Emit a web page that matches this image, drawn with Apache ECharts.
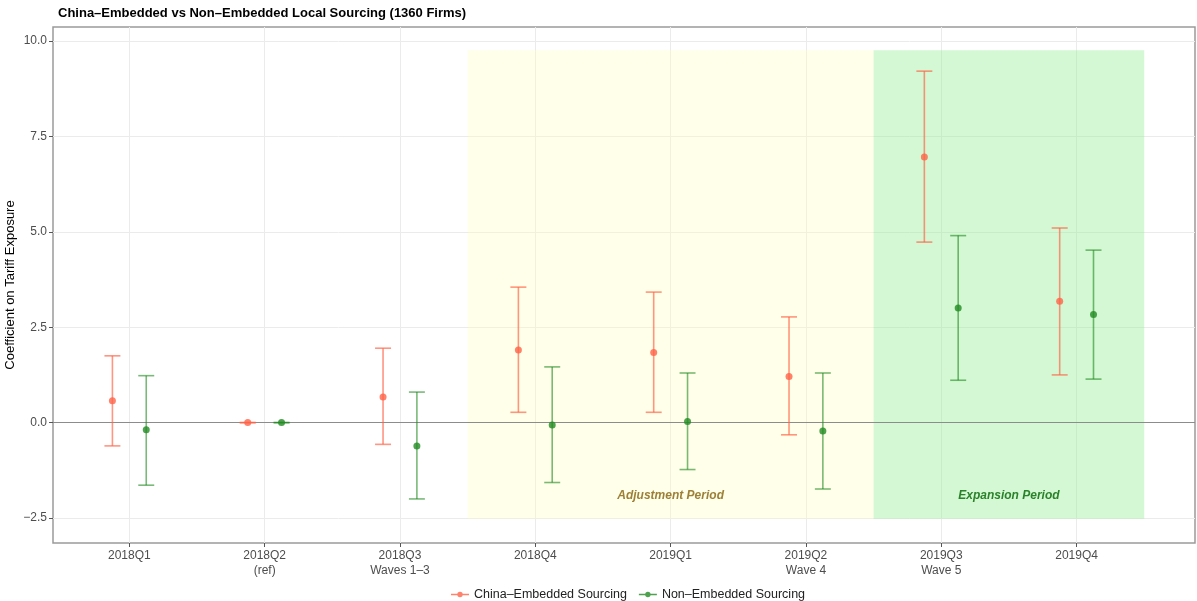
<!DOCTYPE html>
<html>
<head>
<meta charset="utf-8">
<script src="https://cdn.jsdelivr.net/npm/echarts@6/dist/echarts.min.js"></script>
<style>html,body{margin:0;padding:0;background:#fff}#c{width:1197px;height:601px}</style>
</head>
<body>
<div id="c"></div>
<script>
const categories = ['2018Q1','2018Q2','2018Q3','2018Q4','2019Q1','2019Q2','2019Q3','2019Q4'];
const subLabels = ['', '(ref)', 'Waves 1\u20133', '', '', 'Wave 4', 'Wave 5', ''];
const chinaEst = [0.57, 0, 0.67, 1.9, 1.84, 1.21, 6.96, 3.18];
const chinaLo  = [-0.61, 0, -0.57, 0.27, 0.27, -0.32, 4.73, 1.25];
const chinaHi  = [1.75, 0, 1.95, 3.55, 3.42, 2.77, 9.21, 5.1];
const nonEst = [-0.19, 0, -0.61, -0.06, 0.03, -0.22, 3.0, 2.83];
const nonLo  = [-1.64, 0, -2.0, -1.57, -1.23, -1.74, 1.11, 1.14];
const nonHi  = [1.23, 0, 0.8, 1.46, 1.3, 1.3, 4.9, 4.52];
const yTicks = [-2.5, 0, 2.5, 5, 7.5, 10];
const periods = [
  {name: 'Adjustment Period', from: 3.5, to: 6.5, labelX: 5, fill: 'rgba(255,255,190,0.32)', text: '#84600a'},
  {name: 'Expansion Period', from: 6.5, to: 8.5, labelX: 7.5, fill: 'rgba(144,238,144,0.4)', text: '#006400'}
];
const periodYMin = -2.52, periodYMax = 9.76, periodLabelY = -1.92;
const dodge = 0.125;

const FONT = '"Liberation Sans", Arial, Helvetica, sans-serif';
const chart = echarts.init(document.getElementById('c'), null, {renderer: 'canvas'});

function errData(est, lo, hi, off) {
  return est.map((v, i) => [i + 1 + off, lo[i], hi[i]]);
}
function ptData(est, off) {
  return est.map((v, i) => [i + 1 + off, v]);
}
function errRender(color) {
  return function (params, api) {
    const x = api.value(0), lo = api.value(1), hi = api.value(2);
    const t = api.coord([x, hi]);
    const b = api.coord([x, lo]);
    const hw = api.size([0.118, 0])[0] / 2;
    const st = {stroke: color, lineWidth: 1.6, fill: null};
    return {
      type: 'group',
      children: [
        {type: 'line', shape: {x1: t[0], y1: t[1], x2: b[0], y2: b[1]}, style: st},
        {type: 'line', shape: {x1: t[0] - hw, y1: t[1], x2: t[0] + hw, y2: t[1]}, style: st},
        {type: 'line', shape: {x1: b[0] - hw, y1: b[1], x2: b[0] + hw, y2: b[1]}, style: st}
      ]
    };
  };
}
const legendIcon = 'path://M0,4.3 L20,4.3 L20,5.7 L0,5.7 Z M13,5 A3,3 0 1,1 7,5 A3,3 0 1,1 13,5 Z';

const option = {
  backgroundColor: '#fff',
  animation: false,
  textStyle: {fontFamily: FONT},
  title: {
    text: 'China\u2013Embedded vs Non\u2013Embedded Local Sourcing (1360 Firms)',
    left: 53, top: 2,
    textStyle: {fontSize: 13, fontWeight: 'bold', color: '#000', fontFamily: FONT}
  },
  grid: {left: 53, right: 2, top: 27, bottom: 58, show: true, borderColor: '#9a9a9a', borderWidth: 1.5, containLabel: false, outerBoundsMode: 'none'},
  xAxis: {
    type: 'value', min: 0.436, max: 8.875,
    axisLine: {show: false, onZero: false},
    axisTick: {show: true, customValues: [1,2,3,4,5,6,7,8], length: 4, lineStyle: {color: '#555'}},
    axisLabel: {
      customValues: [1,2,3,4,5,6,7,8],
      formatter: function (v) { const i = Math.round(v) - 1; return categories[i] + (subLabels[i] ? '\n' + subLabels[i] : ''); },
      color: '#4d4d4d', fontSize: 12, lineHeight: 15, margin: 5, fontFamily: FONT
    },
    splitLine: {show: true, lineStyle: {color: '#ebebeb', width: 1}}
  },
  yAxis: {
    type: 'value', min: -3.155, max: 10.367,
    name: 'Coefficient on Tariff Exposure', nameLocation: 'middle', nameGap: 36, nameMoveOverlap: false,
    nameTextStyle: {fontSize: 13, color: '#000', fontFamily: FONT},
    axisLine: {show: false, onZero: false},
    axisTick: {show: true, customValues: yTicks, length: 4, lineStyle: {color: '#555'}},
    axisLabel: {
      customValues: yTicks,
      formatter: function (v) { return (v < 0 ? '\u2212' : '') + Math.abs(v).toFixed(1); },
      color: '#4d4d4d', fontSize: 12, margin: 6, fontFamily: FONT
    },
    splitLine: {show: true, lineStyle: {color: '#ebebeb', width: 1}}
  },
  legend: {
    top: 583, left: 446,
    itemWidth: 18, itemHeight: 9, itemGap: 12,
    icon: legendIcon,
    textStyle: {fontSize: 12.5, color: '#222', fontFamily: FONT},
    data: ['China\u2013Embedded Sourcing', 'Non\u2013Embedded Sourcing']
  },
  series: [
    {
      type: 'scatter', name: 'periods', symbolSize: 0, z: 3,
      data: periods.map(p => ({value: [p.labelX, periodLabelY], label: {color: p.text}})),
      label: {
        show: true, position: 'inside', fontSize: 12, fontWeight: 'bold', fontStyle: 'italic', fontFamily: FONT,
        formatter: function (p) { return periods[p.dataIndex].name; }
      },
      silent: true,
      markArea: {
        silent: true, z: 1,
        data: periods.map(p => [{xAxis: p.from, yAxis: periodYMin, itemStyle: {color: p.fill}}, {xAxis: p.to, yAxis: periodYMax}])
      },
      markLine: {
        silent: true, symbol: 'none', z: 1,
        label: {show: false},
        lineStyle: {color: '#8c8c8c', width: 1.2, type: 'solid'},
        data: [{yAxis: 0}]
      }
    },
    {
      type: 'custom', name: 'chinaErr', z: 4, silent: true,
      renderItem: errRender('rgba(255,99,71,0.68)'),
      encode: {x: 0, y: [1, 2]},
      data: errData(chinaEst, chinaLo, chinaHi, -dodge)
    },
    {
      type: 'custom', name: 'nonErr', z: 4, silent: true,
      renderItem: errRender('rgba(34,139,34,0.6)'),
      encode: {x: 0, y: [1, 2]},
      data: errData(nonEst, nonLo, nonHi, dodge)
    },
    {
      type: 'scatter', name: 'China\u2013Embedded Sourcing', z: 5,
      symbol: 'circle', symbolSize: 7,
      itemStyle: {color: '#FF6347'},
      data: ptData(chinaEst, -dodge)
    },
    {
      type: 'scatter', name: 'Non\u2013Embedded Sourcing', z: 5,
      symbol: 'circle', symbolSize: 7,
      itemStyle: {color: '#228B22'},
      data: ptData(nonEst, dodge)
    }
  ]
};
chart.setOption(option);
</script>
</body>
</html>
